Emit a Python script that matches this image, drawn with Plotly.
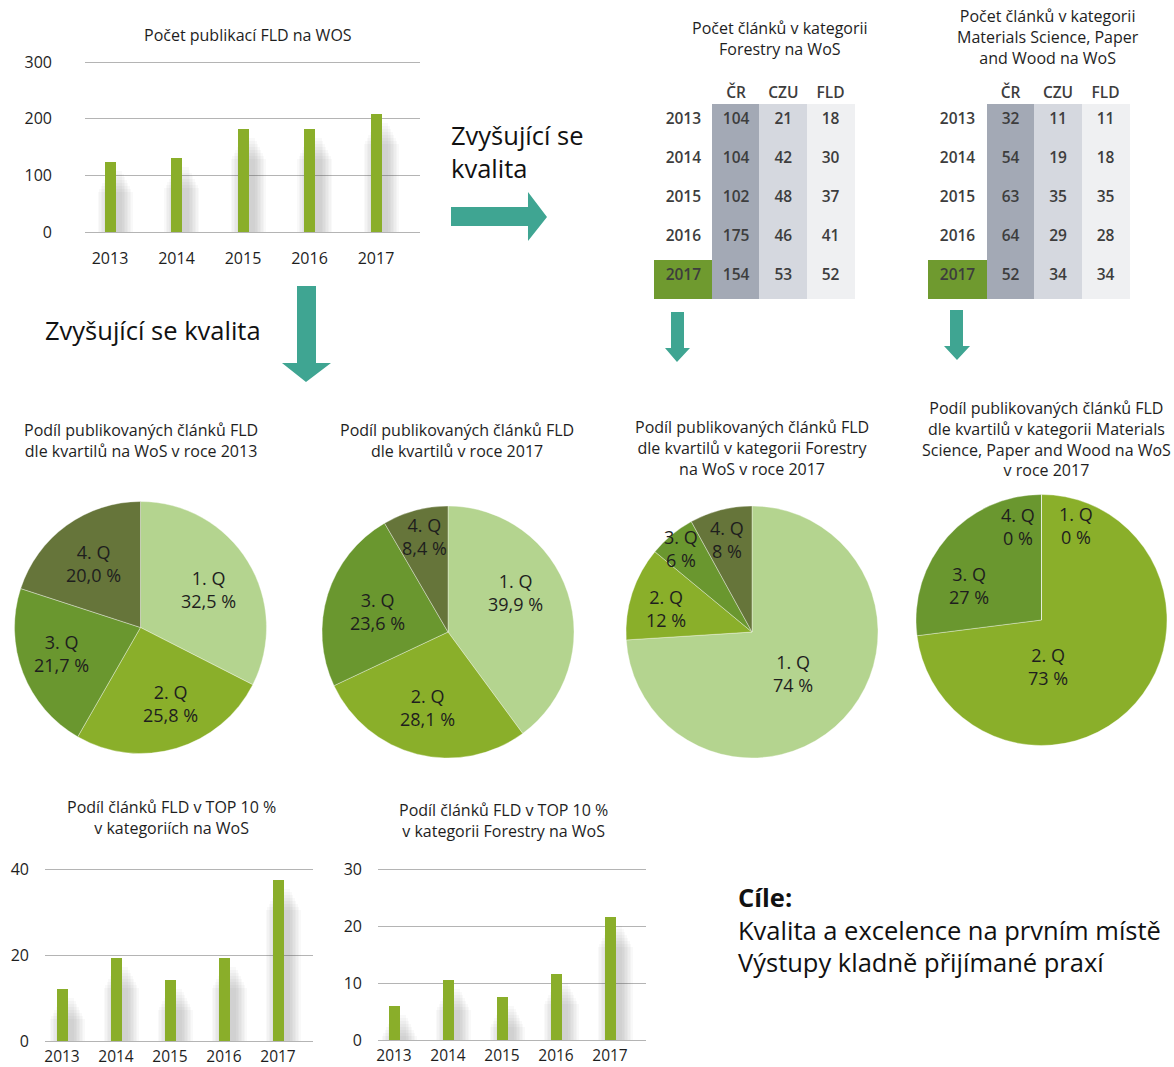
import math
import plotly.graph_objects as go

W, H = 1174, 1067
FONT = "Open Sans"
TXT = "#1e1e1e"
BAR = "#8aae2a"
TEAL = "#3fa592"
GRID = "#b4b4b4"
Q_COLORS = ["#b4d48f", "#8aaf2a", "#6a972f", "#66753a"]


def fx(px):
    return px / W


def fy(py):
    return 1 - py / H


# ---- data ----
years = ["2013", "2014", "2015", "2016", "2017"]
pubs_wos = [124, 131, 182, 182, 208]
top10_all = [12.1, 19.2, 14.3, 19.2, 37.5]
top10_forestry = [5.9, 10.5, 7.6, 11.6, 21.6]

tab_cols = ["ČR", "CZU", "FLD"]
forestry_cr = [104, 104, 102, 175, 154]
forestry_czu = [21, 42, 48, 46, 53]
forestry_fld = [18, 30, 37, 41, 52]
materials_cr = [32, 54, 63, 64, 52]
materials_czu = [11, 19, 35, 29, 34]
materials_fld = [11, 18, 35, 28, 34]

quartiles = ["1. Q", "2. Q", "3. Q", "4. Q"]
q_2013 = [32.5, 25.8, 21.7, 20.0]
q_2017 = [39.9, 28.1, 23.6, 8.4]
q_2017_forestry = [74, 12, 6, 8]
q_2017_materials = [0, 73, 27, 0]

fig = go.Figure()

# ---- bar charts ----
# (axis id, values, x px range of grid, first bar centre px, step px, y px top/bottom, ymax, dtick, label standoff)
bar_specs = [
    ("", pubs_wos, (85, 420), 110, 66.5, (62, 232), 300, 100, 32),
    ("2", top10_all, (45, 313), 62, 54, (869, 1041), 40, 20, 15),
    ("3", top10_forestry, (378, 646), 394, 54, (869, 1040), 30, 10, 15),
]
PAD = 3  # px of slack so the end gridlines are drawn
for ax, vals, (gx0, gx1), c0, step, (yt, yb), ymax, dt, stand in bar_specs:
    upp = ymax / (yb - yt)  # data units per px
    idx = list(range(len(years)))
    # soft drop shadow behind the bars (stacked faint layers)
    for k in range(1, 9):
        fig.add_trace(go.Bar(
            x=[i + 5 / step for i in idx],
            y=[max(v - (6 + 3 * k) * upp, 0) for v in vals],
            width=(11 + 3 * k) / step,
            marker=dict(color="rgba(60,60,60,0.03)", line=dict(width=0)),
            xaxis="x" + ax, yaxis="y" + ax, showlegend=False, hoverinfo="skip"))
    fig.add_trace(go.Bar(
        x=idx, y=vals, width=11 / step,
        marker=dict(color=BAR, line=dict(width=0)),
        xaxis="x" + ax, yaxis="y" + ax, showlegend=False, hoverinfo="y"))
    fig.update_layout({
        "xaxis" + ax: dict(domain=[fx(gx0), fx(gx1)],
                           range=[(gx0 - c0) / step, (gx1 - c0) / step],
                           tickvals=idx, ticktext=years,
                           showgrid=False, zeroline=False, showline=False,
                           ticks="", ticklabelstandoff=1 if ax else 12,
                           tickfont=dict(size=15.5 if ax else 16, color=TXT),
                           automargin=False, anchor="y" + ax, fixedrange=True),
        "yaxis" + ax: dict(domain=[fy(yb + PAD), fy(yt - PAD)],
                           range=[-PAD * upp, ymax + PAD * upp], dtick=dt,
                           showgrid=True, gridcolor=GRID, gridwidth=1,
                           zeroline=False, showline=False, ticks="",
                           ticklabelstandoff=stand, automargin=False,
                           tickfont=dict(size=16, color=TXT),
                           anchor="x" + ax, fixedrange=True),
    })

# ---- tables ----
col_fill = ["#a3a9b5", "#d5d8df", "#eff0f2"]
for x0, cr, czu, fld in [(654, forestry_cr, forestry_czu, forestry_fld),
                         (928, materials_cr, materials_czu, materials_fld)]:
    year_fill = ["white"] * 4 + ["#6f9a2f"]
    fig.add_trace(go.Table(
        domain=dict(x=[fx(x0), fx(x0 + 201)], y=[fy(299), fy(78)]),
        columnwidth=[59, 47, 48, 47],
        header=dict(values=[""] + tab_cols, fill_color="white",
                    line=dict(color="white", width=0), height=26,
                    font=dict(family=FONT, size=15.5, color="#3d3d3d", weight=600)),
        cells=dict(values=[years, cr, czu, fld],
                   fill_color=[year_fill] + col_fill,
                   line=dict(color=[year_fill] + col_fill, width=1),
                   height=39,
                   font=dict(family=FONT, size=15.5, color="#3d3d3d", weight=600)),
    ))

# ---- pies ----
# (values, centre px, radius px, decimals, label radius factors, angle nudges)
pie_specs = [
    (q_2013, (140.5, 627.5), 126, 1, [0.62, 0.65, 0.66, 0.63], [2, -5, 3, 0]),
    (q_2017, (448, 632), 126, 1, [0.62, 0.62, 0.58, 0.78], [-12, 1, -1, 1]),
    (q_2017_forestry, (752, 632), 126, 0, [0.46, 0.71, 0.87, 0.76], [2, -3, -1, -1]),
    (q_2017_materials, (1041.5, 620), 125.5, 0, [0.8, 0.37, 0.64, 0.77], [20, 41, -16, -14]),
]
annotations = []
for vals, (cx, cy), r, dec, rf, nudge in pie_specs:
    fig.add_trace(go.Pie(
        values=vals, labels=quartiles, sort=False, direction="clockwise",
        rotation=0, textinfo="none", showlegend=False,
        marker=dict(colors=Q_COLORS, line=dict(color="rgba(255,255,255,0.6)", width=0.6)),
        domain=dict(x=[fx(cx - r), fx(cx + r)], y=[fy(cy + r), fy(cy - r)]),
    ))
    total = sum(vals)
    cum = 0
    for i, v in enumerate(vals):
        mid = (cum + v / 2) / total * 360 + nudge[i]
        cum += v
        lx = cx + rf[i] * r * math.sin(math.radians(mid))
        ly = cy - rf[i] * r * math.cos(math.radians(mid))
        num = f"{v:.{dec}f}".replace(".", ",")
        annotations.append(dict(
            x=fx(lx), y=fy(ly), xref="paper", yref="paper", showarrow=False,
            xanchor="center", yanchor="middle",
            text=f"{quartiles[i]}<br>{num} %", align="center",
            font=dict(family=FONT, size=18, color=TXT)))

# ---- titles / texts ----
titles = [
    (248, 35, "Počet publikací FLD na WOS"),
    (780, 38, "Počet článků v kategorii<br>Forestry na WoS"),
    (1048, 37, "Počet článků v kategorii<br>Materials Science, Paper<br>and Wood na WoS"),
    (141, 441, "Podíl publikovaných článků FLD<br>dle kvartilů na WoS v roce 2013"),
    (457, 441, "Podíl publikovaných článků FLD<br>dle kvartilů v roce 2017"),
    (752, 448, "Podíl publikovaných článků FLD<br>dle kvartilů v kategorii Forestry<br>na WoS v roce 2017"),
    (1046, 439, "Podíl publikovaných článků FLD<br>dle kvartilů v kategorii Materials<br>Science, Paper and Wood na WoS<br>v roce 2017"),
    (171, 817, "Podíl článků FLD v TOP 10 %<br>v kategoriích na WoS"),
    (503, 820, "Podíl článků FLD v TOP 10 %<br>v kategorii Forestry na WoS"),
]
for x, y, t in titles:
    annotations.append(dict(x=fx(x), y=fy(y), xref="paper", yref="paper",
                            showarrow=False, text=t, align="center",
                            xanchor="center", yanchor="middle",
                            font=dict(family=FONT, size=16, color=TXT)))

big = [
    (43, 330, "Zvyšující se kvalita"),
    (449, 135, "Zvyšující se"),
    (449, 168, "kvalita"),
    (736, 897, "<b>Cíle:</b>"),
    (736, 930, "Kvalita a excelence na prvním místě"),
    (736, 962, "Výstupy kladně přijímané praxí"),
]
for x, y, t in big:
    annotations.append(dict(x=fx(x), y=fy(y), xref="paper", yref="paper",
                            showarrow=False, text=t, align="left",
                            xanchor="left", yanchor="middle",
                            font=dict(family=FONT, size=25.5, color="#111111")))


# ---- arrows ----
def poly(pts):
    return "M " + " L ".join(f"{fx(a):.5f} {fy(b):.5f}" for a, b in pts) + " Z"


arrows = [
    [(451, 207), (528, 207), (528, 192), (547, 217), (528, 241), (528, 226), (451, 226)],
    [(297, 286), (316, 286), (316, 363), (331, 363), (306, 382), (282, 363), (297, 363)],
    [(671, 312), (684, 312), (684, 348), (690, 348), (677, 362), (665, 348), (671, 348)],
    [(950, 310), (963, 310), (963, 346), (970, 346), (957, 360), (944, 346), (950, 346)],
]
shapes = [dict(type="path", xref="paper", yref="paper", path=poly(a),
               fillcolor=TEAL, line=dict(width=0)) for a in arrows]

fig.update_layout(
    width=W, height=H, margin=dict(l=0, r=0, t=0, b=0, autoexpand=False),
    paper_bgcolor="white", plot_bgcolor="white",
    font=dict(family=FONT, color=TXT),
    annotations=annotations, shapes=shapes, bargap=0, barmode="overlay",
)
# page body has a default 8px margin; drop it so the figure sits at 0,0
fig.write_html("out.html", config={"displayModeBar": False},
               post_script="document.body.style.margin='0';")
